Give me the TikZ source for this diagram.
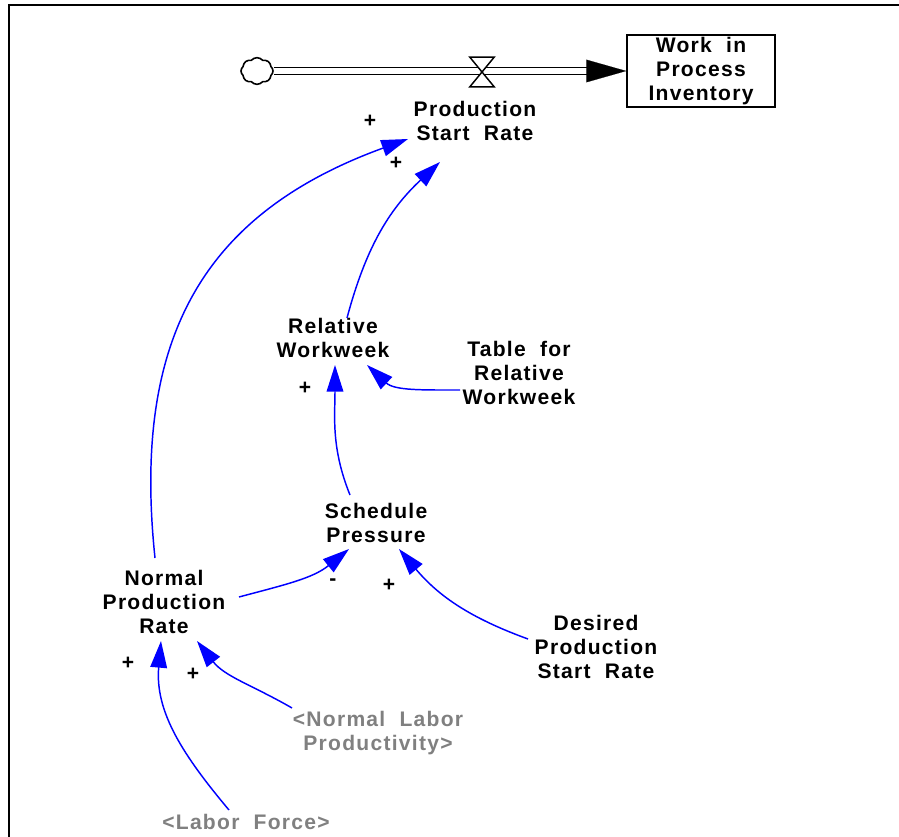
\documentclass[tikz,border=0pt]{standalone}
\usepackage{fontspec}
\setmainfont{Liberation Sans}[LetterSpace=6,WordSpace=2]
\usetikzlibrary{arrows.meta, shapes.symbols}
\definecolor{linkblue}{RGB}{0,0,255}
\definecolor{shadowgrey}{RGB}{128,128,128}

\begin{document}
\begin{tikzpicture}[x=0.75pt, y=0.75pt, >={Triangle[length=20pt,width=12.5pt]}]

			\tikzstyle{var}=[align=center, font=\fontsize{15.8}{18}\selectfont\bfseries, inner sep=0pt]
			\tikzstyle{shadow}=[var, text=shadowgrey]
			\tikzstyle{stock}=[var, draw=black, line width=1.1pt, minimum width=111pt, minimum height=54pt]
			\tikzstyle{sign}=[var]
			\tikzstyle{link}=[->, draw=linkblue, line width=1.1pt]
			\tikzstyle{pipe}=[draw=black, double, double distance=3.8pt, line width=1.1pt]
			\tikzstyle{cloudy}=[cloud, cloud puffs=8, cloud puff arc=100, draw=black, line width=1.2pt, minimum width=24pt, minimum height=20pt, inner sep=0pt]

			\useasboundingbox (0,0) rectangle (899,-837);
			\draw[line width=1.5pt] (9,-837) -- (9,-5) -- (899,-5);

			% flow into the stock
			\node at (257,-71) (source) [cloudy] {};
			\node at (701,-71) (wip) [stock] {Work in\\Process\\Inventory};
			\node at (482,-72) (valve) [minimum width=18pt, minimum height=22pt, inner sep=0pt] {};

			\draw[pipe] (source) -- ([xshift=-28pt]wip.west);
			\draw[white, line width=0.1pt, -{Triangle[fill=black, color=black, length=30pt, width=17pt]}] (source) -- (wip);
			\draw[line width=1.1pt, fill=white] (valve.north west) -- (valve.north east) -- (valve.south west) -- (valve.south east) -- cycle;

			% variables
			\node at (475,-121) (psr) [var] {Production\\Start Rate};
			\node at (333,-338) (rw) [var] {Relative\\Workweek};
			\node at (519,-373) (trw) [var] {Table for\\Relative\\Workweek};
			\node at (376,-523) (sp) [var] {Schedule\\Pressure};
			\node at (164,-602) (npr) [var] {Normal\\Production\\Rate};
			\node at (596,-647) (dpsr) [var] {Desired\\Production\\Start Rate};
			\node at (378,-733) (nlp) [shadow] {<Normal Labor\\Productivity>};
			\node at (246,-822) (lf) [shadow] {<Labor Force>};

			% polarities
			\node at (370,-121) (psrplusa) [sign] {+};
			\node at (396,-163) (psrplusb) [sign] {+};
			\node at (305,-388) (rwplus) [sign] {+};
			\node at (333,-582) (spminus) [sign] {-};
			\node at (389,-585) (spplus) [sign] {+};
			\node at (128,-663) (nprplusa) [sign] {+};
			\node at (193,-674) (nprplusb) [sign] {+};

			% causal links
			\draw[link] ([shift={(-9,44)}]npr.center) to[out=96, in=200, looseness=1.15] ([shift={(-67,-18)}]psr.center);
			\draw[link] ([shift={(14,20)}]rw.center) to[out=75, in=223] ([shift={(-35,-41)}]psr.center);
			\draw[link] ([shift={(-59,-17)}]trw.center) to[out=180, in=317] ([shift={(34,-27)}]rw.center);
			\draw[link] ([shift={(-26,28)}]sp.center) to[out=112, in=270] ([shift={(2,-27)}]rw.center);
			\draw[link] ([shift={(75,5)}]npr.center) to[out=15, in=219] ([shift={(-27,-26)}]sp.center);
			\draw[link] ([shift={(-68,8)}]dpsr.center) to[out=160, in=310] ([shift={(23,-26)}]sp.center);
			\draw[link] ([shift={(-86,25)}]nlp.center) to[out=150, in=308] ([shift={(33,-39)}]npr.center);
			\draw[link] ([shift={(-17,12)}]lf.center) to[out=130, in=265] ([shift={(-3,-39)}]npr.center);
		\end{tikzpicture}
\end{document}
